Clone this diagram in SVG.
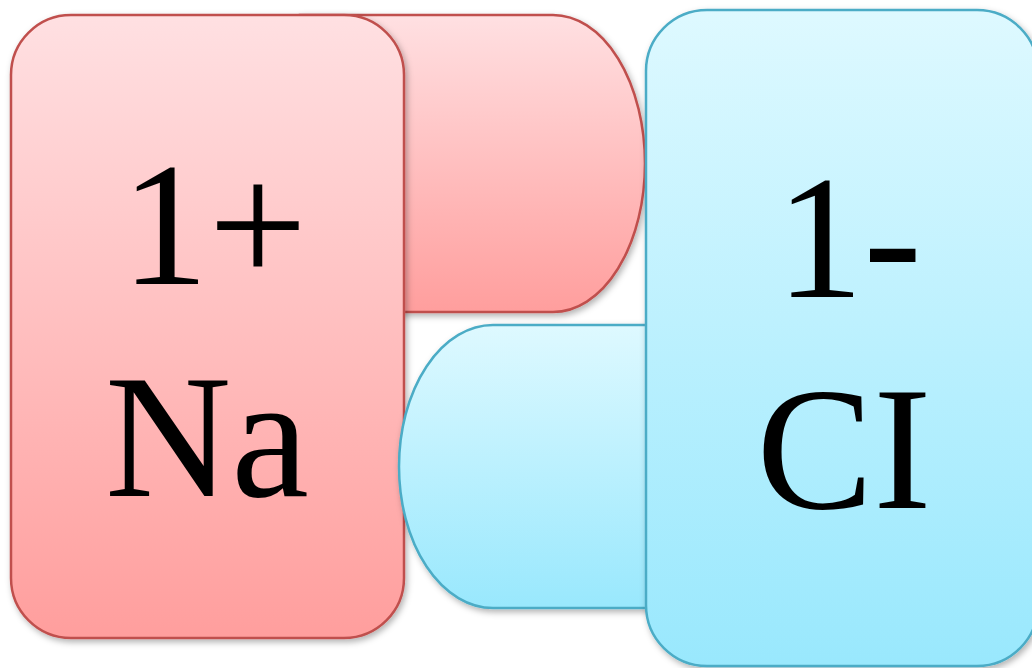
<svg xmlns="http://www.w3.org/2000/svg" width="1032" height="668" viewBox="0 0 1032 668">
<defs>
<linearGradient id="gPink" x1="0" y1="0" x2="0" y2="1">
<stop offset="0" stop-color="#ffe0e2"/>
<stop offset="1" stop-color="#ff9e9d"/>
</linearGradient>
<linearGradient id="gBlue" x1="0" y1="0" x2="0" y2="1">
<stop offset="0" stop-color="#def9ff"/>
<stop offset="1" stop-color="#99e8fd"/>
</linearGradient>
<filter id="sh" x="-10%" y="-10%" width="125%" height="125%">
<feDropShadow dx="2" dy="3" stdDeviation="3" flood-color="#000" flood-opacity="0.3"/>
</filter>
</defs>
<style>
.pink{fill:url(#gPink);stroke:#c0504d;stroke-width:2.5;filter:url(#sh)}
.blue{fill:url(#gBlue);stroke:#4bacc6;stroke-width:2.5;filter:url(#sh)}
.lbl{font-family:"Liberation Serif","Times New Roman",serif;font-size:175px;fill:#000;text-anchor:middle}
</style>
<g id="pink-tab">
<path class="pink" d="M300,15 H553 A92,148.5 0 0 1 553,312 H300 Z"/>
</g>
<g id="na">
<rect class="pink" x="11" y="15" width="393" height="623" rx="60" ry="60"/>
<text class="lbl" x="214" y="284">1+</text>
<text class="lbl" x="207" y="496">Na</text>
</g>
<g id="blue-tab">
<path class="blue" d="M655,325 H493 A94,141.5 0 0 0 493,608 H655 Z"/>
</g>
<g id="cl">
<rect class="blue" x="646" y="10" width="392" height="656" rx="61" ry="61"/>
<text class="lbl" x="849" y="297">1-</text>
<text class="lbl" x="844" y="508">CI</text>
</g>
<g id="connectors"></g>
</svg>
